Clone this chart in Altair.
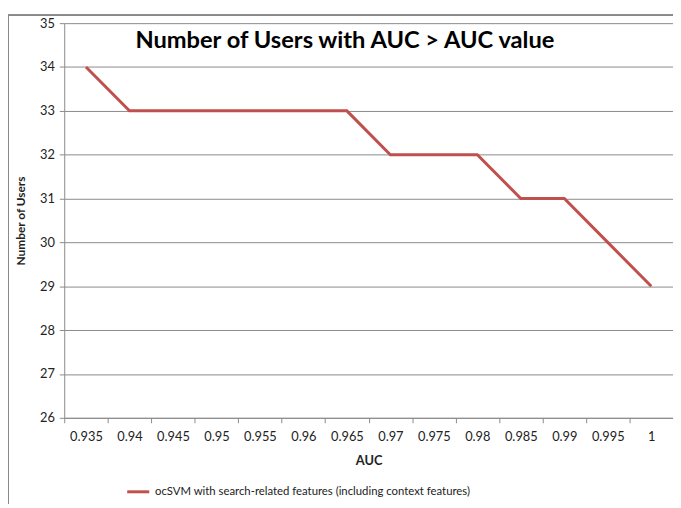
import altair as alt
import pandas as pd

auc = ["0.935", "0.94", "0.945", "0.95", "0.955", "0.96", "0.965",
       "0.97", "0.975", "0.98", "0.985", "0.99", "0.995", "1"]
users = [34, 33, 33, 33, 33, 33, 33, 32, 32, 32, 31, 31, 30, 29]
series_name = "ocSVM with search-related features (including context features)"
y_ticks = [26, 27, 28, 29, 30, 31, 32, 33, 34, 35]

df = pd.DataFrame({"AUC": auc, "Users": users, "Series": [series_name] * len(auc)})

FONT = "Lato"
GRID = "#8a8a8a"

line = alt.Chart(df).mark_line(strokeWidth=3, color="#C0504D").encode(
    x=alt.X("AUC:N", sort=auc,
            scale=alt.Scale(type="band", paddingInner=0, paddingOuter=0),
            axis=alt.Axis(title="AUC", labelAngle=0, tickBand="extent",
                          grid=False, domainColor=GRID, tickColor=GRID,
                          tickSize=5, labelPadding=8, titlePadding=11,
                          labelFontSize=13, titleFontSize=13, titleFontWeight="bold",
                          labelFont=FONT, titleFont=FONT, labelColor="#222",
                          titleColor="#222")),
    y=alt.Y("Users:Q", scale=alt.Scale(domain=[26, 35], nice=False, zero=False),
            axis=alt.Axis(title="Number of Users", values=y_ticks, grid=True,
                          gridColor=GRID, domainColor=GRID, tickColor=GRID,
                          tickSize=5, labelPadding=5, titlePadding=12,
                          labelFontSize=13, titleFontSize=12, titleFontWeight="bold",
                          labelFont=FONT, titleFont=FONT, labelColor="#222",
                          titleColor="#222")),
    color=alt.Color("Series:N", scale=alt.Scale(range=["#C0504D"]),
                    legend=alt.Legend(title=None, orient="none", legendX=62, legendY=462,
                                      symbolType="stroke", symbolStrokeWidth=3,
                                      symbolSize=500, labelFontSize=11.5, labelFont=FONT,
                                      labelColor="#222", labelLimit=0)),
)

border = alt.Chart(df).mark_rect(fill=None, stroke="#8a8a8a", strokeWidth=1).encode(
    x=alt.value(-57), x2=alt.value(640), y=alt.value(-8), y2=alt.value(520)
)

chart = alt.layer(border, line).properties(
    width=617, height=400,
    title=alt.TitleParams("Number of Users with AUC > AUC value", fontSize=24,
                          fontWeight="bold", font=FONT, color="#000",
                          anchor="middle", dx=-24, dy=43),
    autosize=alt.AutoSizeParams(type="none"),
    padding={"left": 57, "top": 12, "right": 0, "bottom": 84},
).configure_view(stroke=None)

chart.save("out.html", embed_options={"renderer": "svg", "actions": False})
